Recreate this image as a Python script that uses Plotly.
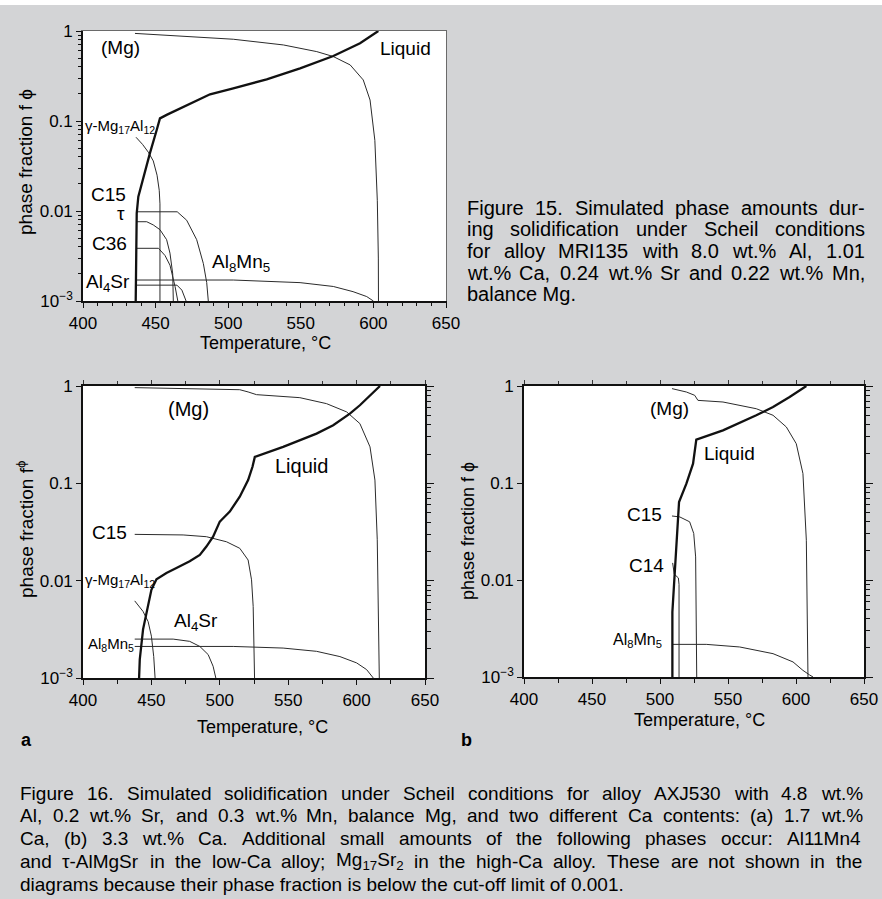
import plotly.graph_objects as go

# ---------------- data (temperature in °C, phase fraction) ----------------
# Figure 15 (MRI135)
f15_liquid_T = [436.3, 436.5, 437.0, 438.1, 441.6, 446.1, 450.7, 453.0, 457.6, 466.8, 476.0, 487.5, 503.5, 526.5, 549.5, 572.4, 590.8, 603.4]
f15_liquid_f = [0.001, 0.004, 0.0094, 0.0144, 0.024, 0.044, 0.079, 0.107, 0.117, 0.138, 0.164, 0.198, 0.231, 0.29, 0.385, 0.527, 0.73, 1.0]
f15_mg_T = [435.8, 457.6, 503.5, 538.0, 561.0, 572.4, 584.0, 593.0, 597.7, 601.0, 602.7, 603.4, 603.5]
f15_mg_f = [0.94, 0.90, 0.81, 0.70, 0.59, 0.52, 0.42, 0.286, 0.171, 0.061, 0.013, 0.003, 0.001]
f15_gamma_T = [436.5, 441.0, 445.0, 448.4, 451.0, 452.5, 453.0, 453.0]
f15_gamma_f = [0.066, 0.055, 0.045, 0.036, 0.025, 0.017, 0.012, 0.001]
f15_c15_T = [436.5, 464.9, 471.4, 478.3, 482.9, 485.2, 486.3]
f15_c15_f = [0.0098, 0.0098, 0.0079, 0.0048, 0.0026, 0.0016, 0.001]
f15_tau_T = [436.5, 443.9, 448.4, 453.0, 457.6, 459.9, 461.8, 462.2]
f15_tau_f = [0.0076, 0.0076, 0.0070, 0.0062, 0.0048, 0.0034, 0.0020, 0.001]
f15_c36_T = [436.5, 452.0, 456.5, 459.9, 463.4, 465.3]
f15_c36_f = [0.00385, 0.00385, 0.0032, 0.0025, 0.00145, 0.001]
f15_al8mn5_T = [436.5, 503.5, 549.5, 572.4, 586.0, 595.4, 600.0]
f15_al8mn5_f = [0.00171, 0.00171, 0.0016, 0.00145, 0.00127, 0.00112, 0.001]
f15_al4sr_T = [436.5, 464.7, 468.1, 470.4, 471.0]
f15_al4sr_f = [0.0015, 0.0015, 0.00132, 0.00107, 0.001]

# Figure 16a (AXJ530, 1.7 wt.% Ca)
f16a_liquid_T = [441.0, 441.5, 443.9, 447.6, 450.0, 453.7, 461.0, 468.3, 478.0, 485.4, 490.2, 495.1, 500.0, 501.2, 507.3, 514.6, 520.7, 523.9, 525.6, 546.3, 570.7, 582.9, 595.1, 602.4, 609.8, 617.1]
f16a_liquid_f = [0.001, 0.00155, 0.00316, 0.00589, 0.00805, 0.01035, 0.0120, 0.0135, 0.0158, 0.0184, 0.0224, 0.0283, 0.0404, 0.042, 0.0513, 0.0728, 0.108, 0.148, 0.187, 0.237, 0.324, 0.395, 0.52, 0.634, 0.80, 1.0]
f16a_mg_T = [437.8, 485.4, 514.6, 520.7, 526.8, 558.5, 578.0, 592.7, 602.4, 609.8, 613.4, 615.1, 615.9, 616.6]
f16a_mg_f = [0.962, 0.94, 0.916, 0.869, 0.815, 0.759, 0.659, 0.542, 0.411, 0.237, 0.108, 0.0263, 0.0054, 0.001]
f16a_c15_T = [437.8, 473.2, 490.2, 504.9, 514.6, 520.7, 523.2, 524.4, 525.4]
f16a_c15_f = [0.0299, 0.0295, 0.0283, 0.0251, 0.0215, 0.0163, 0.0102, 0.00543, 0.001]
f16a_gamma_T = [437.8, 443.9, 447.6, 450.0, 451.7, 452.7]
f16a_gamma_f = [0.0062, 0.00483, 0.0038, 0.00269, 0.00166, 0.001]
f16a_al4sr_T = [437.8, 465.9, 478.0, 485.4, 491.5, 495.1, 497.1]
f16a_al4sr_f = [0.00251, 0.00251, 0.00238, 0.00211, 0.00174, 0.00132, 0.001]
f16a_al8mn5_T = [437.8, 509.8, 546.3, 570.7, 587.8, 600.0, 607.3, 612.2]
f16a_al8mn5_f = [0.00211, 0.00211, 0.00203, 0.00188, 0.00166, 0.00143, 0.00122, 0.001]

# Figure 16b (AXJ530, 3.3 wt.% Ca)
f16b_liquid_T = [509.1, 509.1, 510.8, 512.5, 514.0, 519.4, 524.3, 526.7, 546.3, 570.8, 583.1, 595.3, 607.6]
f16b_liquid_f = [0.001, 0.00468, 0.0116, 0.0257, 0.0637, 0.0984, 0.158, 0.28, 0.349, 0.499, 0.608, 0.771, 1.0]
f16b_mg_T = [508.8, 519.4, 525.5, 527.9, 546.3, 570.8, 583.1, 592.9, 600.2, 605.1, 607.6, 608.8]
f16b_mg_f = [0.94, 0.867, 0.802, 0.711, 0.684, 0.583, 0.499, 0.378, 0.254, 0.125, 0.0257, 0.001]
f16b_c15_T = [508.8, 514.5, 521.8, 524.8, 526.2, 526.7, 527.0]
f16b_c15_f = [0.0457, 0.0447, 0.0398, 0.0302, 0.0173, 0.00525, 0.001]
f16b_c14_T = [509.3, 510.5, 513.5, 514.0, 514.0]
f16b_c14_f = [0.015, 0.0115, 0.0105, 0.009, 0.001]
f16b_al8mn5_T = [508.8, 534.0, 558.6, 583.1, 597.8, 605.1, 610.0, 612.5]
f16b_al8mn5_f = [0.00217, 0.00217, 0.00204, 0.00174, 0.00143, 0.00117, 0.00105, 0.001]

y_tickvals = [0.001, 0.01, 0.1, 1]
y_ticktext = ["10<sup>−3</sup>", "0.01", "0.1", "1"]
x_tickvals = [400, 450, 500, 550, 600, 650]

# ---------------- layout helpers ----------------
W, H = 882, 899
FONT = "Liberation Sans, Arial, Helvetica, sans-serif"
BG = "#d3d4d6"
INK = "#111111"
THIN = "#2b2b2b"

def fx(px):
    return px / W

def fy(py):
    return 1 - py / H

minor_logs = [k * 10 ** e for e in (-3, -2, -1) for k in range(2, 10)]

fig = go.Figure()

def add_curve(T, f, xa, ya, thick=False):
    fig.add_trace(go.Scatter(
        x=T, y=f, xaxis=xa, yaxis=ya, mode="lines",
        line=dict(color=INK if thick else THIN, width=2.3 if thick else 1.0),
        showlegend=False, hoverinfo="skip"))

# top plot (Fig 15)
add_curve(f15_mg_T, f15_mg_f, "x", "y")
add_curve(f15_gamma_T, f15_gamma_f, "x", "y")
add_curve(f15_c15_T, f15_c15_f, "x", "y")
add_curve(f15_tau_T, f15_tau_f, "x", "y")
add_curve(f15_c36_T, f15_c36_f, "x", "y")
add_curve(f15_al8mn5_T, f15_al8mn5_f, "x", "y")
add_curve(f15_al4sr_T, f15_al4sr_f, "x", "y")
add_curve(f15_liquid_T, f15_liquid_f, "x", "y", thick=True)

# plot a
add_curve(f16a_mg_T, f16a_mg_f, "x2", "y2")
add_curve(f16a_c15_T, f16a_c15_f, "x2", "y2")
add_curve(f16a_gamma_T, f16a_gamma_f, "x2", "y2")
add_curve(f16a_al4sr_T, f16a_al4sr_f, "x2", "y2")
add_curve(f16a_al8mn5_T, f16a_al8mn5_f, "x2", "y2")
add_curve(f16a_liquid_T, f16a_liquid_f, "x2", "y2", thick=True)

# plot b
add_curve(f16b_mg_T, f16b_mg_f, "x3", "y3")
add_curve(f16b_c15_T, f16b_c15_f, "x3", "y3")
add_curve(f16b_c14_T, f16b_c14_f, "x3", "y3")
add_curve(f16b_al8mn5_T, f16b_al8mn5_f, "x3", "y3")
add_curve(f16b_liquid_T, f16b_liquid_f, "x3", "y3", thick=True)

# empty traces so the overlay (mirror) axes exist
for xa, ya in (("x4", "y4"), ("x5", "y5"), ("x6", "y6")):
    fig.add_trace(go.Scatter(x=[], y=[], xaxis=xa, yaxis=ya, showlegend=False, hoverinfo="skip"))

tickfont = dict(family=FONT, size=17, color="#000")

def x_main(dom, anchor, minor_step, minor_len):
    return dict(domain=dom, anchor=anchor, range=[400, 650], autorange=False, automargin=False,
                tickvals=x_tickvals, ticks="outside", ticklen=5, tickwidth=1, tickcolor=INK,
                minor=dict(dtick=minor_step, ticks="outside", ticklen=minor_len, tickcolor=INK, showgrid=False),
                showline=True, linecolor=INK, linewidth=1.6, showgrid=False, zeroline=False,
                tickfont=tickfont, ticklabelstandoff=1)

def y_main(dom, anchor, minor):
    d = dict(domain=dom, anchor=anchor, type="log", range=[-3, 0], autorange=False, automargin=False,
             tickvals=y_tickvals, ticktext=y_ticktext, ticks="outside", ticklen=5, tickwidth=1.2,
             tickcolor=INK, showline=True, linecolor=INK, linewidth=1.6, showgrid=False,
             zeroline=False, tickfont=tickfont)
    if minor:
        d["minor"] = dict(tickvals=minor_logs, ticks="outside", ticklen=3, tickcolor=INK, showgrid=False)
    return d

top_x = [fx(83), fx(446)]
top_y = [fy(301), fy(31)]
a_x = [fx(83), fx(425)]
a_y = [fy(678), fy(386)]
b_x = [fx(524), fx(864)]
b_y = [fy(677), fy(386)]

layout = dict(
    width=W, height=H, margin=dict(l=0, r=0, t=0, b=0, pad=0, autoexpand=False),
    paper_bgcolor=BG, plot_bgcolor="white", showlegend=False,
    font=dict(family=FONT, color="#000"),
    xaxis=x_main(top_x, "y", 10, 3),
    yaxis=y_main(top_y, "x", True),
    xaxis2=x_main(a_x, "y2", 25, 4),
    yaxis2=y_main(a_y, "x2", False),
    xaxis3=x_main(b_x, "y3", 25, 4),
    yaxis3=y_main(b_y, "x3", False),
    # mirror axes of the top plot: thin grey frame
    xaxis4=dict(overlaying="x", anchor="y", side="top", range=[400, 650], autorange=False, automargin=False,
                showline=True, linecolor="#6a6a6a", linewidth=1, ticks="", showticklabels=False,
                showgrid=False, zeroline=False),
    yaxis4=dict(overlaying="y", anchor="x", side="right", type="log", range=[-3, 0], autorange=False,
                automargin=False, showline=True, linecolor="#6a6a6a", linewidth=1, ticks="",
                showticklabels=False, showgrid=False, zeroline=False),
)
for i, base_x, base_y in ((5, "x2", "y2"), (6, "x3", "y3")):
    layout[f"xaxis{i}"] = dict(overlaying=base_x, anchor=base_y, side="top", range=[400, 650], autorange=False,
                               automargin=False, showline=True, linecolor=INK, linewidth=1.6,
                               tickvals=x_tickvals, ticks="outside", ticklen=4, tickcolor="#333",
                               showticklabels=False,
                               minor=dict(dtick=25, ticks="outside", ticklen=3, tickcolor="#333"),
                               showgrid=False, zeroline=False)
    layout[f"yaxis{i}"] = dict(overlaying=base_y, anchor=base_x, side="right", type="log", range=[-3, 0],
                               autorange=False, automargin=False, showline=True, linecolor=INK, linewidth=1.6,
                               tickvals=y_tickvals, ticks="outside", ticklen=7, tickwidth=1.2, tickcolor=INK,
                               showticklabels=False,
                               minor=dict(tickvals=minor_logs, ticks="outside", ticklen=4, tickcolor=INK,
                                          showgrid=False),
                               showgrid=False, zeroline=False)
fig.update_layout(**layout)

ann = []

def lab(text, x, ylog, xr, yr, size=19, xanchor="center"):
    ann.append(dict(text=text, x=x, y=ylog, xref=xr, yref=yr, showarrow=False,
                    xanchor=xanchor, yanchor="middle", font=dict(family=FONT, size=size, color="#000")))

# curve labels (x in °C, y in log10 of fraction)
lab("(Mg)", 425.5, -0.18, "x", "y")
lab("Liquid", 621.8, -0.19, "x", "y")
lab("γ-Mg<sub>17</sub>Al<sub>12</sub>", 425.3, -1.06, "x", "y", size=15)
lab("C15", 417.4, -1.82, "x", "y")
lab("τ", 426.2, -2.03, "x", "y")
lab("C36", 418.4, -2.36, "x", "y")
lab("Al<sub>8</sub>Mn<sub>5</sub>", 508.7, -2.58, "x", "y")
lab("Al<sub>4</sub>Sr", 417.4, -2.80, "x", "y")

lab("(Mg)", 476.8, -0.232, "x2", "y2", size=20)
lab("Liquid", 559.8, -0.823, "x2", "y2", size=20)
lab("C15", 419.5, -1.507, "x2", "y2", size=19)
lab("γ-Mg<sub>17</sub>Al<sub>12</sub>", 426.8, -2.0, "x2", "y2", size=15)
lab("Al<sub>4</sub>Sr", 482.9, -2.42, "x2", "y2", size=19)
lab("Al<sub>8</sub>Mn<sub>5</sub>", 420.4, -2.66, "x2", "y2", size=15)

lab("(Mg)", 507.1, -0.234, "x3", "y3")
lab("Liquid", 551.2, -0.698, "x3", "y3")
lab("C15", 488.7, -1.323, "x3", "y3")
lab("C14", 490.0, -1.849, "x3", "y3")
lab("Al<sub>8</sub>Mn<sub>5</sub>", 483.8, -2.625, "x3", "y3", size=16)

def ptext(text, px, py, size=18, xanchor="center", angle=0, bold=False):
    if bold:
        text = "<b>" + text + "</b>"
    ann.append(dict(text=text, x=fx(px), y=fy(py), xref="paper", yref="paper", showarrow=False,
                    xanchor=xanchor, yanchor="middle", textangle=angle, borderpad=0, borderwidth=0,
                    font=dict(family=FONT, size=size, color="#000")))

# axis titles
ptext("Temperature, °C", 265, 343, size=18)
ptext("Temperature, °C", 262, 727, size=18)
ptext("Temperature, °C", 699, 720, size=18)
ptext("phase fraction f ϕ", 25, 162, size=19, angle=-90)
ptext("phase fraction f<sup>ϕ</sup>", 25, 530, size=19, angle=-90)
ptext("phase fraction f ϕ", 468, 531, size=18, angle=-90)
ptext("a", 26, 740, size=18, bold=True)
ptext("b", 467, 740, size=18, bold=True)

# ---------------- justified captions ----------------
AW = {' ': 278, '!': 278, '%': 889, '(': 333, ')': 333, ',': 278, '-': 333, '.': 278, ':': 278, ';': 278,
      '0': 556, '1': 556, '2': 556, '3': 556, '4': 556, '5': 556, '6': 556, '7': 556, '8': 556, '9': 556,
      'A': 667, 'B': 667, 'C': 722, 'D': 722, 'E': 667, 'F': 611, 'G': 778, 'H': 722, 'I': 278, 'J': 500,
      'K': 667, 'L': 556, 'M': 833, 'N': 722, 'O': 778, 'P': 667, 'Q': 778, 'R': 722, 'S': 667, 'T': 611,
      'U': 722, 'V': 667, 'W': 944, 'X': 667, 'Y': 667, 'Z': 611,
      'a': 556, 'b': 556, 'c': 500, 'd': 556, 'e': 556, 'f': 278, 'g': 556, 'h': 556, 'i': 222, 'j': 222,
      'k': 500, 'l': 222, 'm': 833, 'n': 556, 'o': 556, 'p': 556, 'q': 556, 'r': 333, 's': 500, 't': 278,
      'u': 556, 'v': 500, 'w': 722, 'x': 500, 'y': 500, 'z': 500, 'τ': 470}

def word_width(word, size):
    total = 0.0
    scale = 1.0
    i = 0
    while i < len(word):
        if word.startswith("<sub>", i):
            scale = 0.7
            i += 5
            continue
        if word.startswith("</sub>", i):
            scale = 1.0
            i += 6
            continue
        total += AW.get(word[i], 556) * scale
        i += 1
    return total * size / 1000

def caption(lines, x0, x1, y0, dy, size):
    for k, line in enumerate(lines):
        py = y0 + k * dy
        if k == len(lines) - 1:
            ptext(line, x0, py, size=size, xanchor="left")
            continue
        words = line.split(" ")
        widths = [word_width(w, size) for w in words]
        gap = (x1 - x0 - sum(widths)) / (len(words) - 1)
        xpos = x0
        for w, wd in zip(words, widths):
            ptext(w, xpos, py, size=size, xanchor="left")
            xpos += wd + gap

caption_15 = [
    "Figure 15. Simulated phase amounts dur-",
    "ing solidification under Scheil conditions",
    "for alloy MRI135 with 8.0 wt.% Al, 1.01",
    "wt.% Ca, 0.24 wt.% Sr and 0.22 wt.% Mn,",
    "balance Mg.",
]
caption_16 = [
    "Figure 16. Simulated solidification under Scheil conditions for alloy AXJ530 with 4.8 wt.%",
    "Al, 0.2 wt.% Sr, and 0.3 wt.% Mn, balance Mg, and two different Ca contents: (a) 1.7 wt.%",
    "Ca, (b) 3.3 wt.% Ca. Additional small amounts of the following phases occur: Al11Mn4",
    "and τ-AlMgSr in the low-Ca alloy; Mg<sub>17</sub>Sr<sub>2</sub> in the high-Ca alloy. These are not shown in the",
    "diagrams because their phase fraction is below the cut-off limit of 0.001.",
]
caption(caption_15, 467, 865, 208, 21.5, 20)
caption(caption_16, 20, 862, 793, 22.8, 19)

fig.update_layout(annotations=ann)
fig.add_shape(type="rect", xref="paper", yref="paper", x0=0, x1=1, y0=fy(5), y1=1,
              fillcolor="white", line=dict(width=0), layer="below")

fig.write_html("out.html", config={"displayModeBar": False},
               post_script="document.body.style.margin='0';document.body.style.padding='0';"
                           "document.body.style.overflow='hidden';")
